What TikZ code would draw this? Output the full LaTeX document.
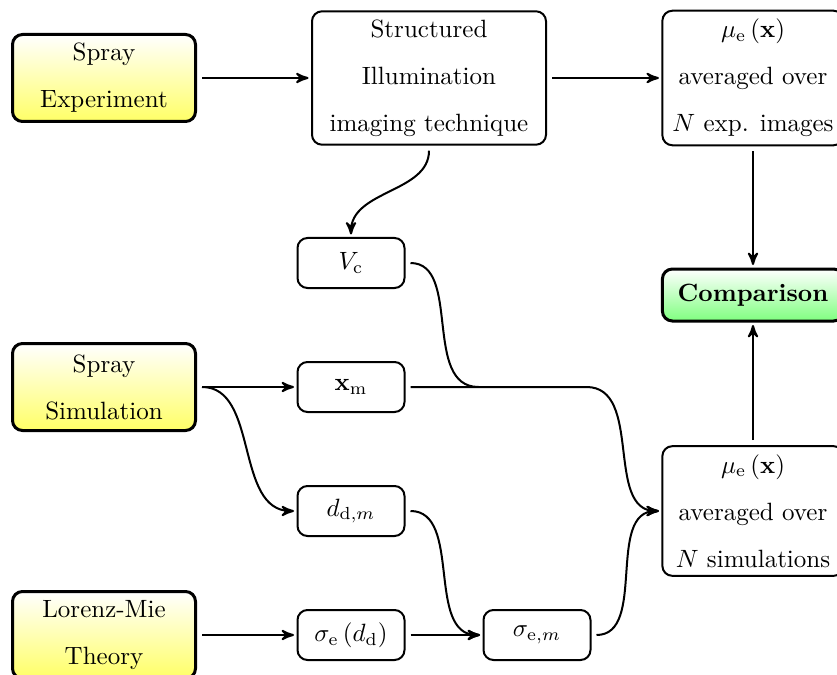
\documentclass[tikz,border=0pt]{standalone}
\usepackage{amsmath}
\usepackage{tikz}
\usetikzlibrary{arrows,shapes,positioning}

\begin{document}
\begin{tikzpicture}[
            source/.style={draw,very thick,rounded corners,minimum width=73.2pt,minimum height=34.8pt, top color=white, bottom color=yellow!60},
            result/.style={draw,thick,rounded corners,minimum width=72.5pt},
            small/.style={draw,thick,rounded corners,minimum width=42.8pt,minimum height=20pt},
            every node/.style={align=center, font=\fontsize{10}{18.8}\selectfont},
            link/.style={->,>=stealth',shorten >=1pt,shorten <=2pt,thick},
            line/.style={shorten <=2pt,thick},
            on grid
  ]

  \useasboundingbox (0,0) rectangle (334.8pt,-270pt);

  % experiment branch
  \node[source] (sprayexp) at (41.6pt,-31.2pt) {Spray\\Experiment};
  \node[result, minimum width=93.6pt] (sil) [right=130pt of sprayexp] {Structured\\Illumination\\imaging technique};
  \node[result] (muexp) [right=129.6pt of sil] {$\mu_\mathrm{e}\left(\mathbf{x}\right)$\\averaged over\\$N$ exp. images};
  \node[result, very thick, minimum height=20.8pt, top color=white, bottom color=green!50] (comp) [below=86.8pt of muexp] {\textbf{Comparison}};

  % simulation branch
  \node[small] (vc) [below left=74pt and 31.2pt of sil] {$V_\mathrm{c}$};
  \node[small] (xm) [below=49.6pt of vc] {$\mathbf{x}_\mathrm{m}$};
  \node[source] (spraysim) [left=98.8pt of xm] {Spray\\Simulation};
  \node[small] (ddm) [below=49.6pt of xm] {$d_{\mathrm{d},m}$};
  \node[small] (sedd) [below=49.6pt of ddm] {$\sigma_\mathrm{e}\left(d_\mathrm{d}\right)$};
  \node[source] (lm) [left=98.8pt of sedd] {Lorenz-Mie\\Theory};
  \node[small] (sem) [right=74.4pt of sedd] {$\sigma_{\mathrm{e},m}$};
  \node[result] (musim) [right=160.8pt of ddm] {$\mu_\mathrm{e}\left(\mathbf{x}\right)$\\averaged over\\$N$ simulations};

  \coordinate (join) at ([xshift=-1.6pt]sem.west |- xm.east);
  \coordinate (bend) at ([xshift=-2pt]sem.east |- xm.east);

  \draw[link] (sprayexp) -- (sil);
  \draw[link] (sil) -- (muexp);
  \draw[link] (muexp) -- (comp);
  \draw[link] (musim) -- (comp);
  \draw[link] (sil) to[out=-90,in=90] (vc);

  \draw[line] (vc) to[out=0,in=180] (join);
  \draw[link] (xm) -- (bend) to[out=0,in=180] (musim);

  \draw[link] (spraysim) -- (xm);
  \draw[link] (spraysim.east) to[out=0,in=180] (ddm);
  \draw[link] (ddm) to[out=0,in=180] (sem);
  \draw[link] (lm) -- (sedd);
  \draw[link] (sedd) -- (sem);
  \draw[link] (sem) to[out=0,in=180] (musim);

\end{tikzpicture}
\end{document}
